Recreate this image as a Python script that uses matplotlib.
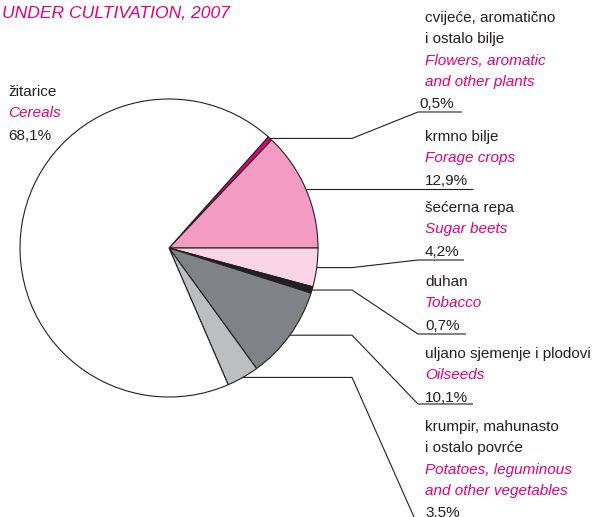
import numpy as np
import matplotlib
matplotlib.use("Agg")
import matplotlib.pyplot as plt

plt.rcParams['font.family'] = ['Liberation Sans', 'DejaVu Sans']

# ---- data ----
shares = [0.5, 12.9, 4.2, 0.7, 10.1, 3.5, 68.1]
names_hr = ["cvijeće, aromatično\ni ostalo bilje", "krmno bilje", "šećerna repa", "duhan",
            "uljano sjemenje i plodovi", "krumpir, mahunasto\ni ostalo povrće", "žitarice"]
names_en = ["Flowers, aromatic\nand other plants", "Forage crops", "Sugar beets", "Tobacco",
            "Oilseeds", "Potatoes, leguminous\nand other vegetables", "Cereals"]
pct_labels = ["0,5%", "12,9%", "4,2%", "0,7%", "10,1%", "3,5%", "68,1%"]
title = "UNDER CULTIVATION, 2007"

colors = ["#E4007C", "#F39BC3", "#F9D4E6", "#231F20", "#808285", "#BCBEC0", "#FFFFFF"]
DARK = "#231F20"
MAG = "#E5007D"

W, H = 595, 517
fig = plt.figure(figsize=(W / 100, H / 100), dpi=100)
ax = fig.add_axes([0, 0, 1, 1])

cx, cy, r = 169, H - 248, 149
start = 360 * (shares[0] + shares[1]) / 100
wedges, _ = ax.pie(shares, colors=colors, startangle=start, counterclock=False,
                   center=(cx, cy), radius=r, frame=True,
                   wedgeprops=dict(edgecolor=DARK, linewidth=0.8))
ax.set_xlim(0, W)
ax.set_ylim(0, H)
ax.set_aspect('equal')
ax.axis('off')

fs = 11.0
lh = 21.3  # line height in px

def block(x, ytop, hr, en, pct, pct_dx=0):
    lines = []
    for t in hr.split("\n"):
        lines.append((t, DARK, 'normal'))
    for t in en.split("\n"):
        lines.append((t, MAG, 'italic'))
    y = ytop
    for t, c, st in lines:
        ax.text(x, H - y, t, color=c, style=st, fontsize=fs, va='center', ha='left')
        y += lh
    ax.text(x + pct_dx, H - y - 1, pct, color=DARK, fontsize=fs, va='center', ha='left')
    return y

# right-side labels: (top line y, underline y, underline end x)
tops = [18, 137, 208, 282, 354, 427]
ulines = [112, 188, 260, 334, 404, 526]
uends = [462, 473, 464, 466, 473, 463]
pdx = [-6, 0, 0, 0, 0, 0]
tx = 425
knee_x = 352
ux0 = 418

for i in range(6):
    block(tx, tops[i], names_hr[i], names_en[i], pct_labels[i], pdx[i])
    w = wedges[i]
    mid = np.deg2rad((w.theta1 + w.theta2) / 2)
    px = cx + r * np.cos(mid)
    py = cy + r * np.sin(mid)
    xs = [px, knee_x, ux0, uends[i]]
    ys = [py, py, H - ulines[i], H - ulines[i]]
    if i == 1:
        xs = [px, uends[i]]
        ys = [py, py]
    ax.plot(xs, ys, color=DARK, linewidth=0.8, solid_capstyle='butt')

# cereals label (left)
block(8, 92, names_hr[6], names_en[6], pct_labels[6])

ax.text(2, H - 14, title, color=MAG, style='italic', fontsize=12.6, va='center', ha='left')

fig.savefig("out.png", dpi=100)
